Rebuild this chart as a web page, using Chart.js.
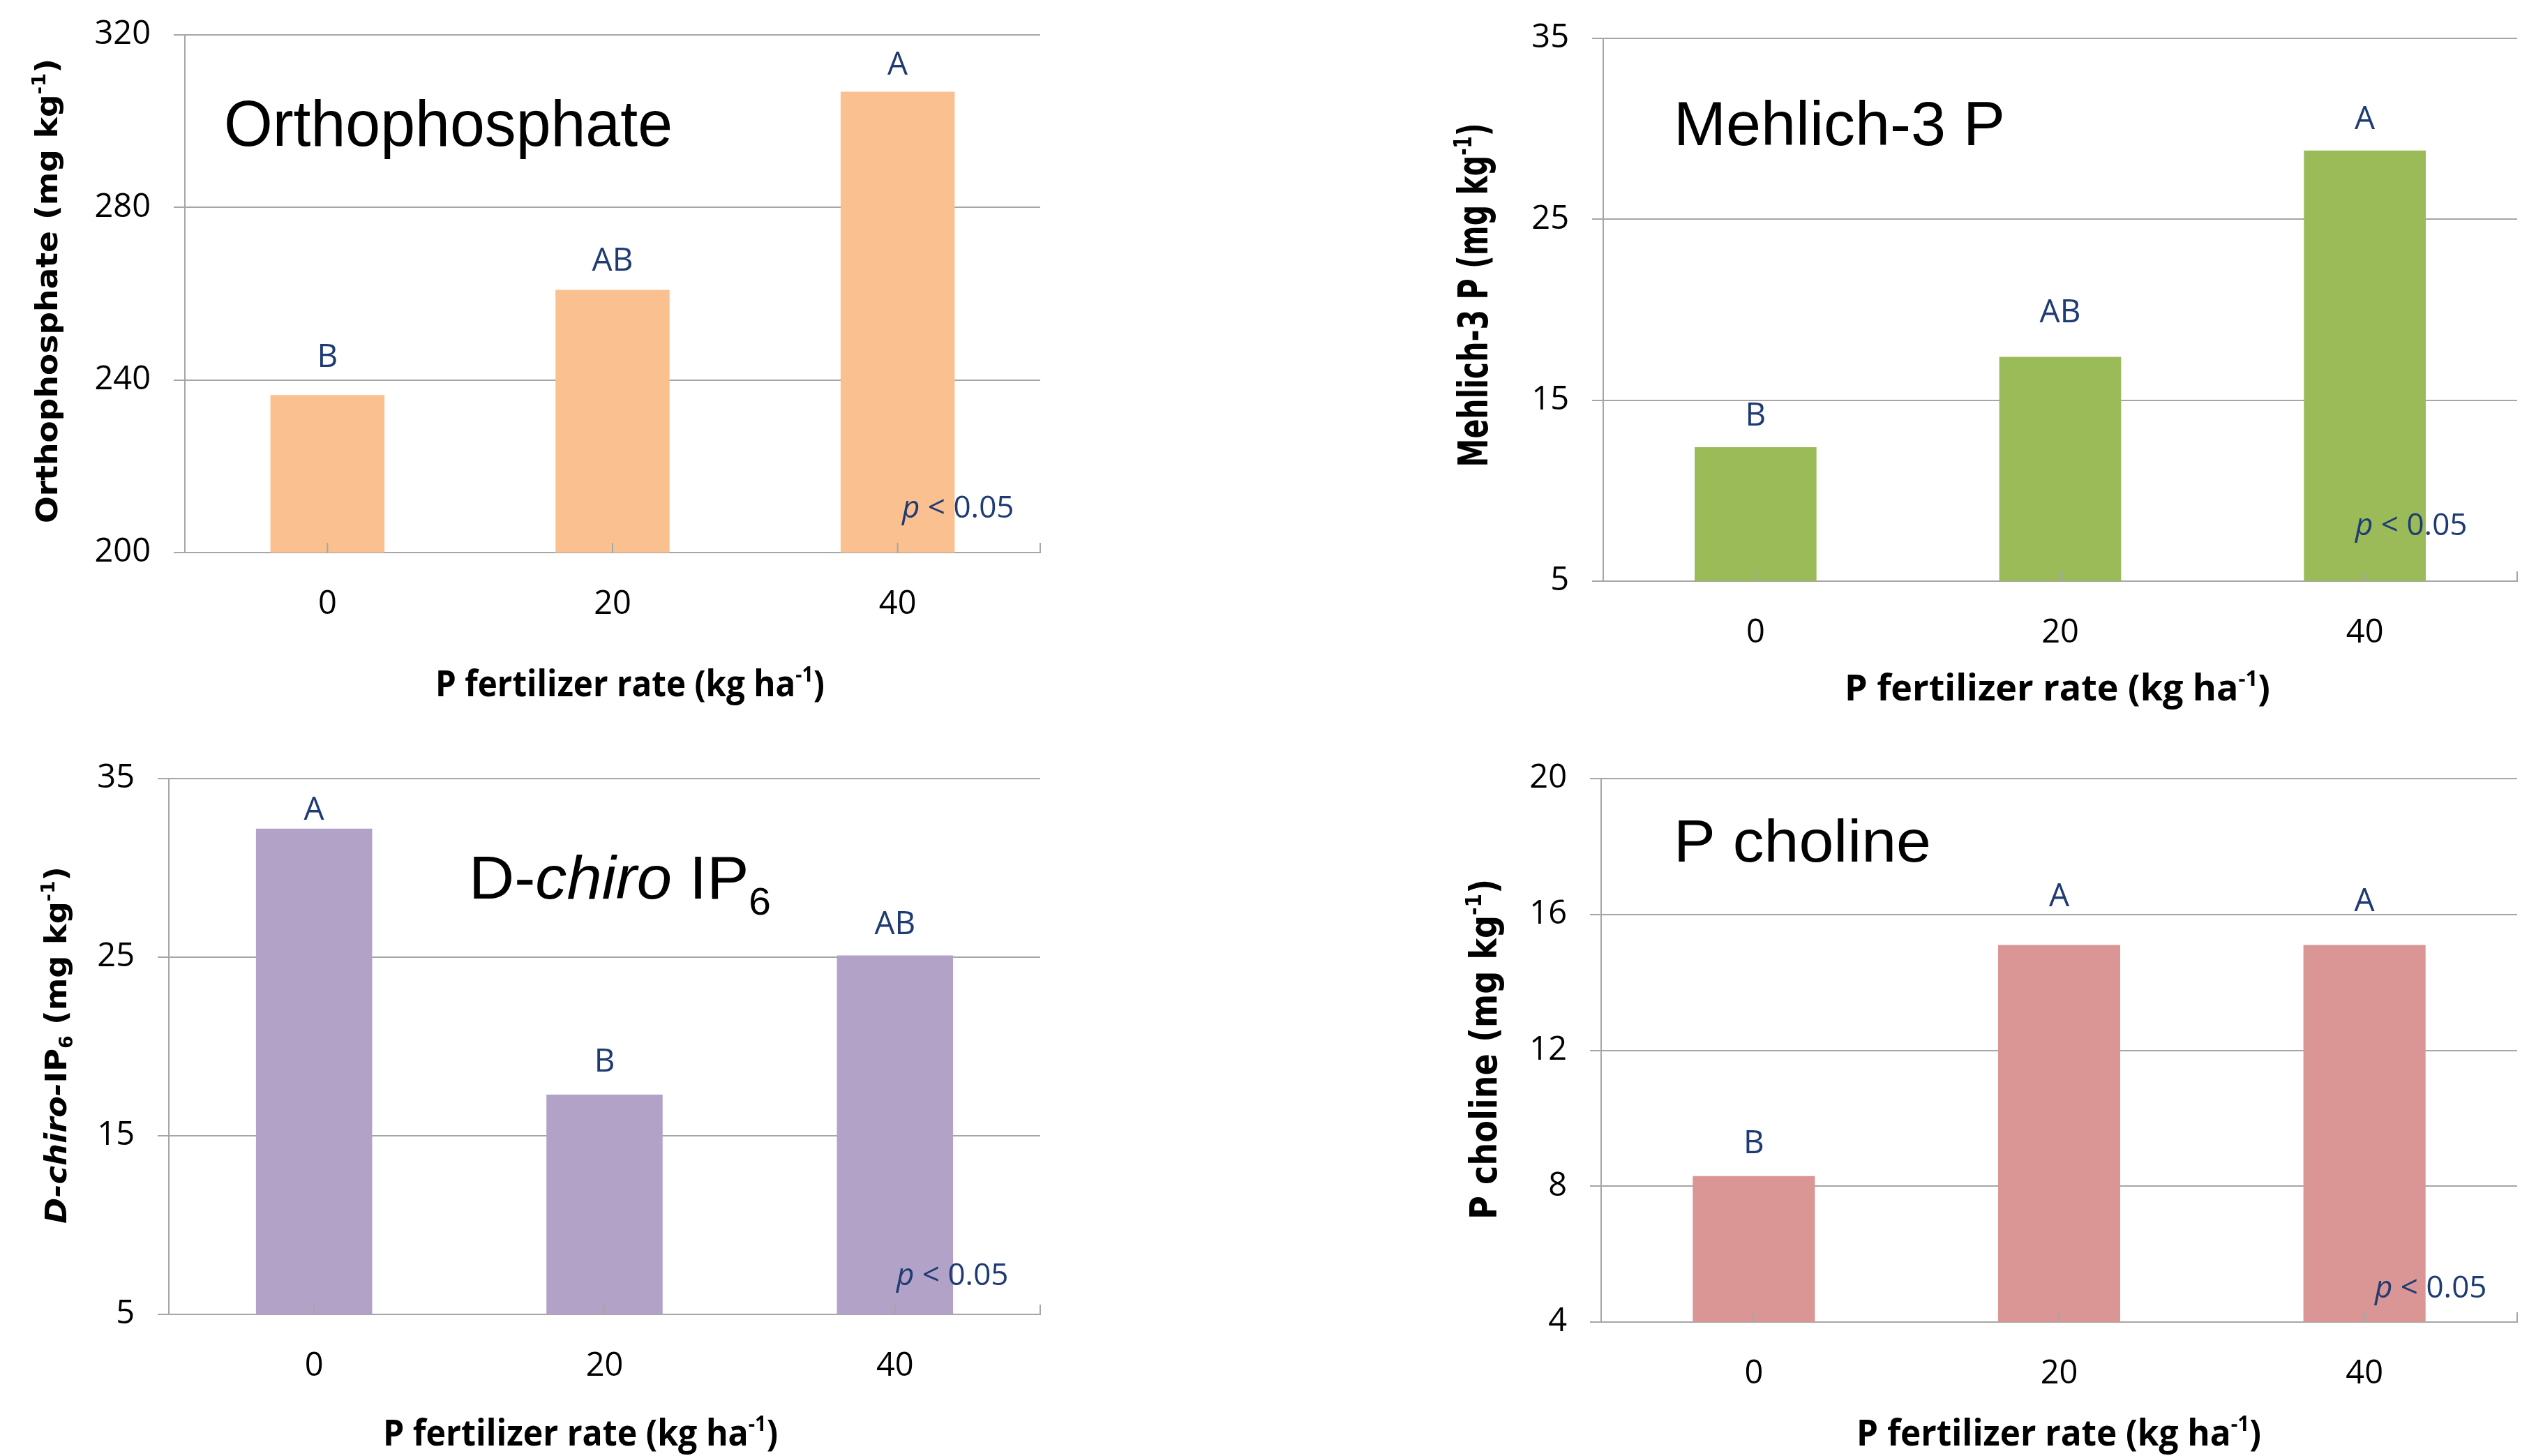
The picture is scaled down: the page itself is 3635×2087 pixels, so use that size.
<!DOCTYPE html>
<html>
<head>
<meta charset="utf-8">
<script src="https://cdn.jsdelivr.net/npm/chart.js@4.4.1/dist/chart.umd.min.js"></script>
<style>
  body { margin: 0; background: #fff; width: 3635px; height: 2087px; position: relative; overflow: hidden; }
  canvas { position: absolute; }
</style>
</head>
<body>
<canvas id="ortho"></canvas>
<canvas id="mehlich"></canvas>
<canvas id="chiro"></canvas>
<canvas id="choline"></canvas>
<script>
// data
const rates = ['0', '20', '40'];

const orthophosphate = [236.5, 260.9, 306.8];
const orthoLetters = ['B', 'AB', 'A'];
const orthoTicks = [200, 240, 280, 320];

const mehlich3P = [12.4, 17.4, 28.8];
const mehlichLetters = ['B', 'AB', 'A'];
const mehlichTicks = [5, 15, 25, 35];

const dChiroIP6 = [32.2, 17.3, 25.1];
const chiroLetters = ['A', 'B', 'AB'];
const chiroTicks = [5, 15, 25, 35];

const pCholine = [8.3, 15.1, 15.1];
const cholineLetters = ['B', 'A', 'A'];
const cholineTicks = [4, 8, 12, 16, 20];

const GRID = '#A6A6A6';
const NAVY = '#1F3B73';
const Y_W = 200, X_H = 150;

const sup = { t: '-1', sc: 0.6, dy: -0.4 };
const unitParts = [{ t: ' (mg kg' }, sup, { t: ')' }];
const xTitleParts = [{ t: 'P fertilizer rate (kg ha' }, sup, { t: ')' }];

// page coordinates for each panel
const panels = [
  {
    id: 'ortho', box: [0, 0, 1640, 1043], plot: [265, 50, 1491, 792],
    values: orthophosphate, letters: orthoLetters, ticks: orthoTicks, color: '#FAC090',
    gaps: [40, 27, 25],
    title: { parts: [{ t: 'Orthophosphate' }], x: 321, y: 209, size: 92, len: 643 },
    yTitle: { parts: [{ t: 'Orthophosphate' }, ...unitParts], x: 82, y: 417, size: 43, len: 666 },
    xTitle: { x: 903, y: 998, len: 558 },
    pLabel: { x: 1293, y: 742 }
  },
  {
    id: 'mehlich', box: [1817, 0, 1818, 1043], plot: [2298, 55, 3608, 833],
    values: mehlich3P, letters: mehlichLetters, ticks: mehlichTicks, color: '#9BBB59',
    gaps: [31, 49, 31],
    title: { parts: [{ t: 'Mehlich-3 P' }], x: 2399, y: 208, size: 89, len: 475 },
    yTitle: { parts: [{ t: 'Mehlich-3 P' }, ...unitParts], x: 2132, y: 423, size: 58, len: 493 },
    xTitle: { x: 2949, y: 1004, len: 610 },
    pLabel: { x: 3376, y: 767 }
  },
  {
    id: 'chiro', box: [0, 1043, 1640, 1044], plot: [242, 1116, 1491, 1884],
    values: dChiroIP6, letters: chiroLetters, ticks: chiroTicks, color: '#B3A2C7',
    gaps: [13, 33, 30],
    title: { parts: [{ t: 'D-' }, { t: 'chiro', it: true }, { t: ' IP' }, { t: '6', sc: 0.63, dy: 0.26 }], x: 672, y: 1288, size: 88, len: 433 },
    yTitle: { parts: [{ t: 'D-chiro-', it: true }, { t: 'IP' }, { t: '6', sc: 0.6, dy: 0.22 }, ...unitParts], x: 95, y: 1498, size: 43, len: 512 },
    xTitle: { x: 832, y: 2072, len: 566 },
    pLabel: { x: 1285, y: 1842 }
  },
  {
    id: 'choline', box: [1817, 1043, 1818, 1044], plot: [2295, 1116, 3608, 1895],
    values: pCholine, letters: cholineLetters, ticks: cholineTicks, color: '#D99694',
    gaps: [33, 56, 49],
    title: { parts: [{ t: 'P choline' }], x: 2399, y: 1235, size: 86, len: 369 },
    yTitle: { parts: [{ t: 'P choline' }, ...unitParts], x: 2145, y: 1504, size: 54, len: 488 },
    xTitle: { x: 2951, y: 2072, len: 580 },
    pLabel: { x: 3404, y: 1860 }
  }
];

function drawRich(ctx, parts, x, y, o) {
  const fontOf = p => `${p.it ? 'italic ' : ''}${o.weight || 'normal'} ${o.size * (p.sc || 1)}px ${o.family}`;
  const widths = [];
  let w = 0;
  parts.forEach(p => {
    ctx.font = fontOf(p);
    const pw = ctx.measureText(p.t).width;
    widths.push(pw);
    w += pw;
  });
  const k = o.len ? o.len / w : 1;
  ctx.save();
  ctx.translate(x, y);
  if (o.rot) ctx.rotate(o.rot);
  ctx.scale(k, 1);
  ctx.fillStyle = o.color || '#000';
  ctx.textAlign = 'left';
  ctx.textBaseline = 'alphabetic';
  let cx = o.align === 'center' ? -w / 2 : 0;
  parts.forEach((p, i) => {
    ctx.font = fontOf(p);
    ctx.fillText(p.t, cx, (p.dy || 0) * o.size);
    cx += widths[i];
  });
  ctx.restore();
}

function makeAnnot(panel) {
  const ox = panel.box[0], oy = panel.box[1];
  return {
    id: 'annot_' + panel.id,
    afterDraw(chart) {
      const ctx = chart.ctx;
      const xs = chart.scales.x, ys = chart.scales.y;
      const area = chart.chartArea;

      // small tick marks standing up from the category axis
      ctx.save();
      ctx.strokeStyle = GRID;
      ctx.lineWidth = 2;
      const marks = panel.values.map((v, i) => xs.getPixelForValue(i)).concat([area.right]);
      marks.forEach(mx => {
        ctx.beginPath();
        ctx.moveTo(mx, area.bottom);
        ctx.lineTo(mx, area.bottom - 14);
        ctx.stroke();
      });
      ctx.restore();

      // significance letters
      ctx.save();
      ctx.font = '46px "Open Sans"';
      ctx.fillStyle = NAVY;
      ctx.textAlign = 'center';
      ctx.textBaseline = 'alphabetic';
      panel.values.forEach((v, i) => {
        ctx.fillText(panel.letters[i], xs.getPixelForValue(i), ys.getPixelForValue(v) - panel.gaps[i]);
      });
      ctx.restore();

      const t = panel.title;
      drawRich(ctx, t.parts, t.x - ox, t.y - oy, { size: t.size, family: '"Liberation Sans", Arial', len: t.len });

      drawRich(ctx, [{ t: 'p', it: true }, { t: ' < 0.05' }], panel.pLabel.x - ox, panel.pLabel.y - oy,
        { size: 44, family: '"Open Sans"', color: NAVY });

      const yt = panel.yTitle;
      drawRich(ctx, yt.parts, yt.x - ox, yt.y - oy,
        { size: yt.size, family: '"DejaVu Sans"', weight: 'bold', len: yt.len, align: 'center', rot: -Math.PI / 2 });

      const xt = panel.xTitle;
      drawRich(ctx, xTitleParts, xt.x - ox, xt.y - oy,
        { size: 52, family: '"Open Sans"', weight: 'bold', len: xt.len, align: 'center' });
    }
  };
}

panels.forEach(panel => {
  const [bx, by, bw, bh] = panel.box;
  const [pl, pt, pr, pb] = panel.plot;
  const canvas = document.getElementById(panel.id);
  canvas.width = bw;
  canvas.height = bh;
  canvas.style.left = bx + 'px';
  canvas.style.top = by + 'px';
  canvas.style.width = bw + 'px';
  canvas.style.height = bh + 'px';

  const tickFont = { family: '"Open Sans"', size: 47 };

  new Chart(canvas, {
    type: 'bar',
    data: {
      labels: rates,
      datasets: [{
        data: panel.values,
        backgroundColor: panel.color,
        borderWidth: 0,
        barPercentage: 0.4,
        categoryPercentage: 1.0
      }]
    },
    options: {
      responsive: false,
      animation: false,
      devicePixelRatio: 1,
      layout: {
        padding: {
          left: pl - bx - Y_W,
          top: pt - by,
          right: bx + bw - pr,
          bottom: by + bh - pb - X_H
        }
      },
      plugins: { legend: { display: false }, tooltip: { enabled: false } },
      scales: {
        x: {
          grid: { display: false },
          border: { display: true, color: GRID, width: 2 },
          ticks: { font: tickFont, color: '#000', padding: 38 },
          afterFit: s => { s.height = X_H; s.paddingLeft = 0; s.paddingRight = 0; }
        },
        y: {
          min: panel.ticks[0],
          max: panel.ticks[panel.ticks.length - 1],
          grid: { color: GRID, lineWidth: 2, tickLength: 16, drawTicks: true },
          border: { display: true, color: GRID, width: 2 },
          ticks: { stepSize: panel.ticks[1] - panel.ticks[0], font: tickFont, color: '#000', padding: 33 },
          afterFit: s => { s.width = Y_W; s.paddingTop = 0; s.paddingBottom = 0; }
        }
      }
    },
    plugins: [makeAnnot(panel)]
  });
});
</script>
</body>
</html>
